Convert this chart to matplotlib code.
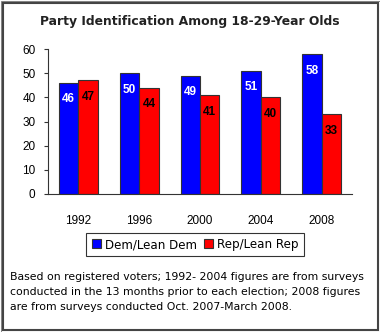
import numpy as np
import matplotlib
matplotlib.use("Agg")
import matplotlib.pyplot as plt
from matplotlib.patches import Rectangle
from matplotlib.transforms import IdentityTransform

# data
years = ["1992", "1996", "2000", "2004", "2008"]
dem = [46, 50, 49, 51, 58]
rep = [47, 44, 41, 40, 33]
yticks = [0, 10, 20, 30, 40, 50, 60]

title = "Party Identification Among 18-29-Year Olds"
note = ("Based on registered voters; 1992- 2004 figures are from surveys\n"
        "conducted in the 13 months prior to each election; 2008 figures\n"
        "are from surveys conducted Oct. 2007-March 2008.")

fig = plt.figure(figsize=(3.8, 3.32), dpi=100)
ax = fig.add_axes([48 / 380, 138 / 332, 304 / 380, 145 / 332])

x = np.arange(len(years))
w = 0.32
b1 = ax.bar(x - w / 2, dem, w, color="#0000ff", edgecolor="#333333", linewidth=0.8,
            label="Dem/Lean Dem")
b2 = ax.bar(x + w / 2, rep, w, color="#ff0000", edgecolor="#333333", linewidth=0.8,
            label="Rep/Lean Rep")

for bars, col in ((b1, "white"), (b2, "black")):
    for r in bars:
        ax.annotate(f"{r.get_height():.0f}", (r.get_x() + r.get_width() / 2, r.get_height()),
                    xytext=(0, -12), textcoords="offset points", ha="center", va="center",
                    fontsize=8.5, fontweight="bold", color=col, family="Liberation Sans")

ax.set_xlim(-0.5, len(years) - 0.5)
ax.set_ylim(0, 60)
ax.set_yticks(yticks)
ax.set_xticks(x)
ax.set_xticklabels(years)
ax.spines["top"].set_visible(False)
ax.spines["right"].set_visible(False)
ax.spines["left"].set_color("#333333")
ax.spines["bottom"].set_color("#333333")
ax.tick_params(axis="x", length=0, pad=15)
ax.tick_params(axis="y", length=3, width=0.8, pad=6, color="#333333")
for lab in ax.get_xticklabels() + ax.get_yticklabels():
    lab.set_family("Liberation Sans")
    lab.set_fontsize(8.5)

fig.text(0.5, 1 - 22 / 332, title, ha="center", va="center",
         fontsize=8.9, fontweight="bold", color="#222222")

leg = fig.legend(loc="center", bbox_to_anchor=(195 / 380, 1 - 244.5 / 332), ncol=2,
                 frameon=True, fancybox=False, edgecolor="black", fontsize=8.6,
                 handlelength=0.8, handleheight=0.8, handletextpad=0.3,
                 columnspacing=0.6, borderpad=0.45, borderaxespad=0)
leg.get_frame().set_linewidth(0.8)

fig.text(10 / 380, 1 - 292 / 332, note, ha="left", va="center",
         fontsize=7.85, linespacing=1.65, color="black")

# double frame around the whole picture
fig.add_artist(Rectangle((0.5, 0.5), 379, 331, fill=False, edgecolor="#888888",
                         linewidth=0.75, transform=IdentityTransform()))
fig.add_artist(Rectangle((2.5, 2.5), 375, 327, fill=False, edgecolor="#444444",
                         linewidth=1.5, transform=IdentityTransform()))

fig.savefig("out.png", dpi=100)
